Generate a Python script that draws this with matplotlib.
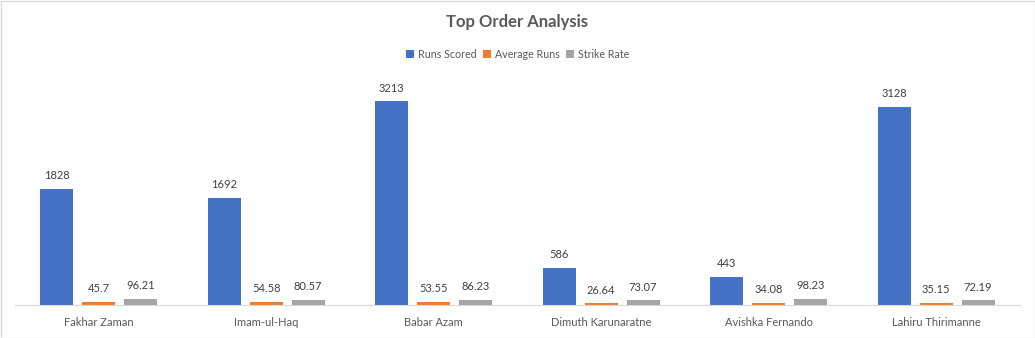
import numpy as np
import matplotlib
matplotlib.use("Agg")
from matplotlib import pyplot as plt
from matplotlib.patches import Rectangle

players = ["Fakhar Zaman", "Imam-ul-Haq", "Babar Azam",
           "Dimuth Karunaratne", "Avishka Fernando", "Lahiru Thirimanne"]
runs_scored = [1828, 1692, 3213, 586, 443, 3128]
average_runs = [45.7, 54.58, 53.55, 26.64, 34.08, 35.15]
strike_rate = [96.21, 80.57, 86.23, 73.07, 98.23, 72.19]

series = [
    ("Runs Scored", runs_scored, "#4472C4"),
    ("Average Runs", average_runs, "#ED7D31"),
    ("Strike Rate", strike_rate, "#A5A5A5"),
]

plt.rcParams["font.family"] = ["Lato", "DejaVu Sans"]
text_color = "#595959"

fig = plt.figure(figsize=(10.35, 3.38), dpi=100)
ax = fig.add_axes([15 / 1035, 33 / 338, 1005 / 1035, 222 / 338])

x = np.arange(len(players))
offsets = [-0.25, 0.0, 0.25]
width = 0.197
for (name, vals, color), off in zip(series, offsets):
    bars = ax.bar(x + off, vals, width=width, color=color, label=name)
    for rect, v in zip(bars, vals):
        ax.annotate(f"{v:g}", (rect.get_x() + rect.get_width() / 2, rect.get_height()),
                    xytext=(0, 5.5), textcoords="offset points",
                    ha="center", va="bottom", fontsize=8, color="#404040")

ax.set_xlim(-0.5, len(players) - 0.5)
ax.set_ylim(0, 3500)
ax.set_yticks([])
ax.set_xticks(x, players)
ax.tick_params(axis="x", length=0, labelsize=8, labelcolor=text_color, pad=9)
for side in ("top", "right", "left"):
    ax.spines[side].set_visible(False)
ax.spines["bottom"].set_color("#D9D9D9")

fig.text(0.5, 1 - 22 / 338, "Top Order Analysis", ha="center", va="center",
         fontsize=12, fontweight="bold", color=text_color)
fig.legend(loc="center", bbox_to_anchor=(0.5, 1 - 54 / 338), ncol=3, frameon=False,
           fontsize=7.7, handlelength=0.75, handleheight=0.75, handletextpad=0.35,
           columnspacing=0.6, labelcolor=text_color)

fig.patches.append(Rectangle((0.5 / 1035, 0.5 / 338), 1 - 1 / 1035, 1 - 1 / 338,
                             transform=fig.transFigure, fill=False,
                             edgecolor="#D9D9D9", linewidth=1))

fig.savefig("out.png", dpi=100)
